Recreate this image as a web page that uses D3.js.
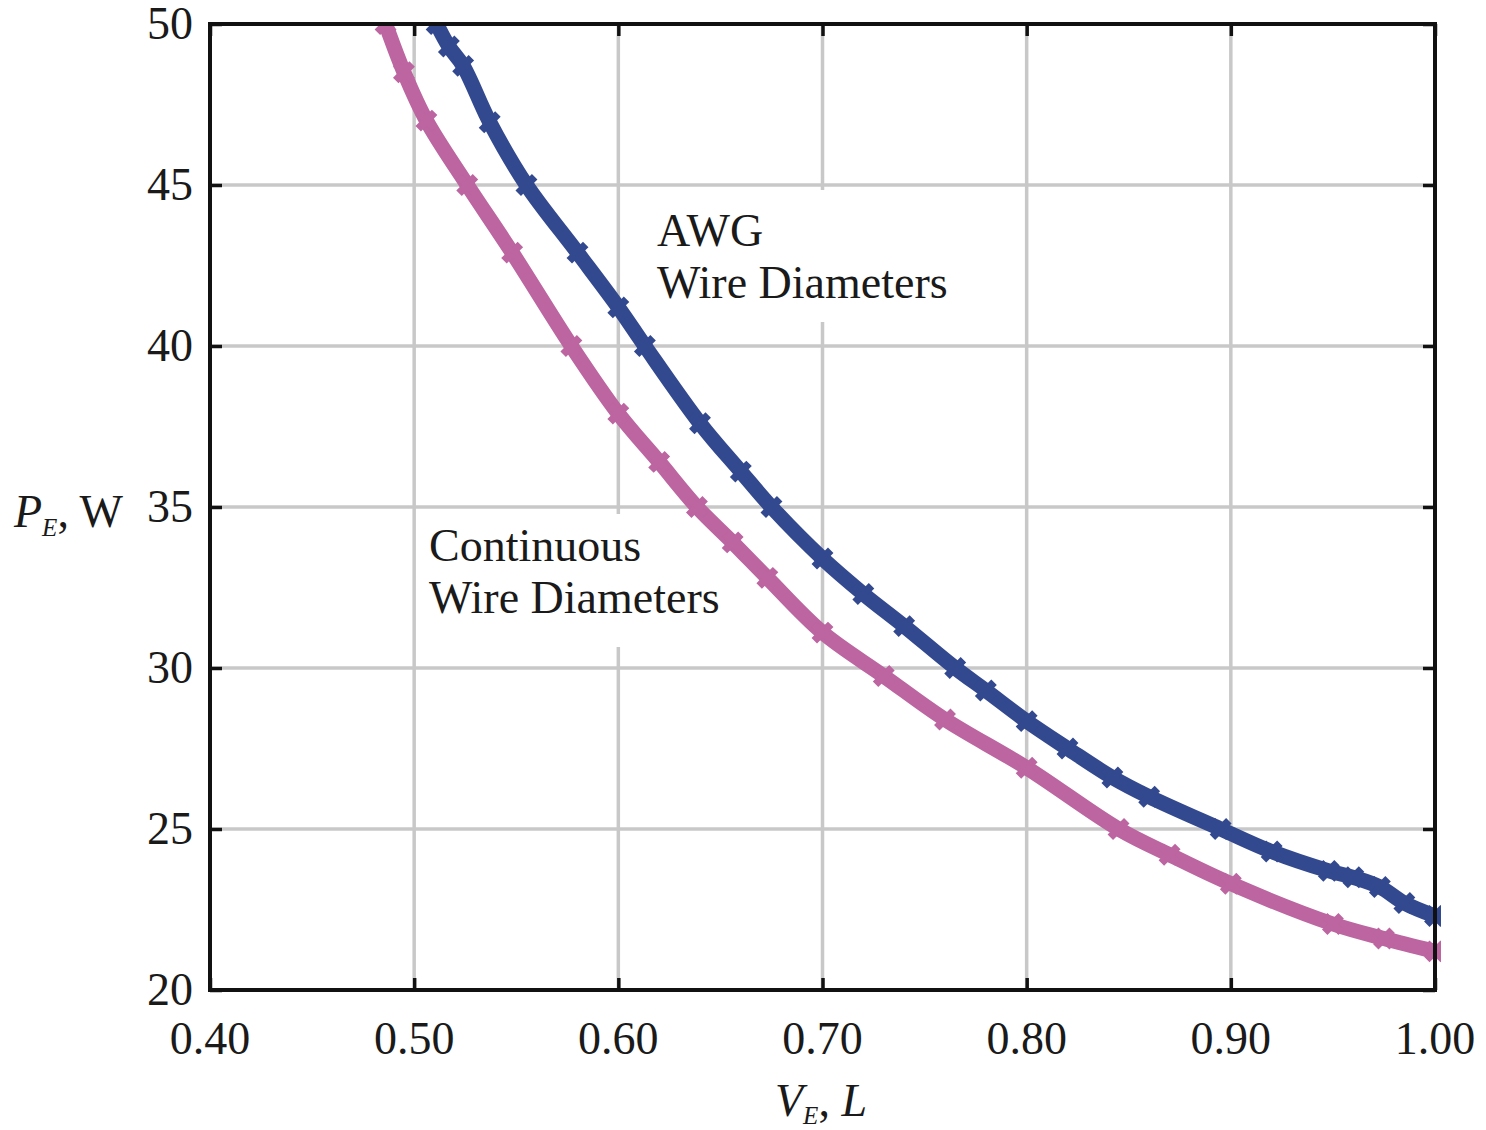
<!DOCTYPE html>
<meta charset="utf-8">
<script src="https://d3js.org/d3.v7.min.js"></script>
<style>
  body { margin: 0; background: #fff; }
  text { font-family: "Liberation Serif", "Times New Roman", serif; fill: #1a1a1a; }
</style>
<div id="chart"></div>
<script>

    // data: V_E (L) and P_E (W)
    var awgV = [0.511, 0.517, 0.524, 0.537, 0.555, 0.580, 0.600, 0.613, 0.640, 0.660, 0.675, 0.700, 0.720, 0.740, 0.765, 0.780, 0.800, 0.820, 0.842, 0.860, 0.895, 0.920, 0.948, 0.960, 0.973, 0.985, 1.000];
    var awgP = [50.0, 49.3, 48.7, 46.95, 45.0, 42.9, 41.2, 40.0, 37.6, 36.1, 35.0, 33.4, 32.3, 31.3, 30.0, 29.3, 28.35, 27.5, 26.6, 26.0, 25.0, 24.3, 23.7, 23.5, 23.2, 22.7, 22.3];

    var contV = [0.486, 0.495, 0.506, 0.526, 0.548, 0.577, 0.600, 0.620, 0.6385, 0.656, 0.673, 0.700, 0.730, 0.760, 0.800, 0.845, 0.870, 0.900, 0.950, 0.975, 1.000];
    var contP = [50.0, 48.5, 47.0, 45.0, 42.9, 40.0, 37.9, 36.4, 35.0, 33.9, 32.8, 31.1, 29.75, 28.4, 26.9, 25.0, 24.2, 23.3, 22.05, 21.6, 21.2];

    var xTicks = [0.40, 0.50, 0.60, 0.70, 0.80, 0.90, 1.00];
    var yTicks = [20, 25, 30, 35, 40, 45, 50];

    var margin = {top: 24, right: 51, bottom: 140, left: 210},
        width = 1486 - margin.left - margin.right,
        height = 1130 - margin.top - margin.bottom;

    var x = d3.scaleLinear().domain([0.40, 1.00]).range([0, width]);
    var y = d3.scaleLinear().domain([20, 50]).range([height, 0]);

    var svg = d3.select("#chart")
        .append("svg")
        .attr("width", 1486)
        .attr("height", 1130)
        .append("g")
        .attr("transform", "translate(" + margin.left + "," + margin.top + ")");

    // grid
    svg.append("g").selectAll("line")
        .data(xTicks)
        .enter().append("line")
        .attr("x1", function(d) { return x(d); })
        .attr("x2", function(d) { return x(d); })
        .attr("y1", 0).attr("y2", height)
        .style("stroke", "#c8c8c8").style("stroke-width", 3.5);
    svg.append("g").selectAll("line")
        .data(yTicks)
        .enter().append("line")
        .attr("y1", function(d) { return y(d); })
        .attr("y2", function(d) { return y(d); })
        .attr("x1", 0).attr("x2", width)
        .style("stroke", "#c8c8c8").style("stroke-width", 3.5);

    // white boxes behind the labels (they cut the grid)
    svg.append("rect").attr("x", 440).attr("y", 166).attr("width", 310).attr("height", 132).style("fill", "#fff");
    svg.append("rect").attr("x", 215).attr("y", 490).attr("width", 300).attr("height", 133).style("fill", "#fff");

    // axes: ticks pointing inward on all four sides
    function styleAxis(g) {
        g.select(".domain").remove();
        g.selectAll(".tick line").style("stroke", "#111").style("stroke-width", 3.5);
        g.selectAll(".tick text").remove();
    }
    svg.append("g").attr("transform", "translate(0," + height + ")")
        .call(d3.axisTop(x).tickValues(xTicks).tickSize(12)).call(styleAxis);
    svg.append("g")
        .call(d3.axisBottom(x).tickValues(xTicks).tickSize(12)).call(styleAxis);
    svg.append("g")
        .call(d3.axisRight(y).tickValues(yTicks).tickSize(12)).call(styleAxis);
    svg.append("g").attr("transform", "translate(" + width + ",0)")
        .call(d3.axisLeft(y).tickValues(yTicks).tickSize(12)).call(styleAxis);

    // tick labels
    svg.append("g").selectAll("text")
        .data(xTicks)
        .enter().append("text")
        .attr("x", function(d) { return x(d); })
        .attr("y", height + 64)
        .attr("text-anchor", "middle")
        .style("font-size", "46px")
        .text(function(d) { return d3.format(".2f")(d); });
    svg.append("g").selectAll("text")
        .data(yTicks)
        .enter().append("text")
        .attr("x", -17)
        .attr("y", function(d) { return y(d) + 15; })
        .attr("text-anchor", "end")
        .style("font-size", "46px")
        .text(function(d) { return d; });

    // curves
    var line = d3.line()
        .x(function(d) { return x(d[0]); })
        .y(function(d) { return y(d[1]); })
        .curve(d3.curveCatmullRom);

    var series = [
        {v: contV, p: contP, color: "#bc65a0"},
        {v: awgV, p: awgP, color: "#33498f"}
    ];

    var clip = svg.append("clipPath").attr("id", "plotclip")
        .append("rect").attr("x", -2).attr("y", -2).attr("width", width + 8).attr("height", height + 4);

    series.forEach(function(s) {
        var pts = s.v.map(function(v, i) { return [v, s.p[i]]; });
        var g = svg.append("g").attr("clip-path", "url(#plotclip)");
        g.append("path")
            .datum(pts)
            .attr("d", line)
            .style("fill", "none")
            .style("stroke", s.color)
            .style("stroke-width", 15)
            .style("stroke-linecap", "round");
        g.selectAll("path.mark")
            .data(pts)
            .enter().append("path")
            .attr("class", "mark")
            .attr("transform", function(d) { return "translate(" + x(d[0]) + "," + y(d[1]) + ") rotate(45)"; })
            .attr("d", d3.symbol().type(d3.symbolCross).size(300))
            .style("fill", s.color);
    });

    // frame
    svg.append("rect")
        .attr("width", width).attr("height", height)
        .style("fill", "none").style("stroke", "#111").style("stroke-width", 4);

    // curve labels
    svg.append("text").attr("x", 447).attr("y", 222).style("font-size", "46px").text("AWG");
    svg.append("text").attr("x", 447).attr("y", 274).style("font-size", "46px").text("Wire Diameters");
    svg.append("text").attr("x", 219).attr("y", 537).style("font-size", "46px").text("Continuous");
    svg.append("text").attr("x", 219).attr("y", 589).style("font-size", "46px").text("Wire Diameters");

    // axis titles
    var yt = svg.append("text").attr("x", -196).attr("y", 503).style("font-size", "46px");
    yt.append("tspan").style("font-style", "italic").text("P");
    yt.append("tspan").style("font-style", "italic").style("font-size", "25px").attr("dy", 9).text("E");
    yt.append("tspan").attr("dy", -9).text(", W");

    var xt = svg.append("text").attr("x", 565).attr("y", 1092).style("font-size", "46px");
    xt.append("tspan").style("font-style", "italic").text("V");
    xt.append("tspan").style("font-style", "italic").style("font-size", "25px").attr("dy", 8).text("E");
    xt.append("tspan").attr("dy", -8).text(", ");
    xt.append("tspan").style("font-style", "italic").text("L");

</script>
